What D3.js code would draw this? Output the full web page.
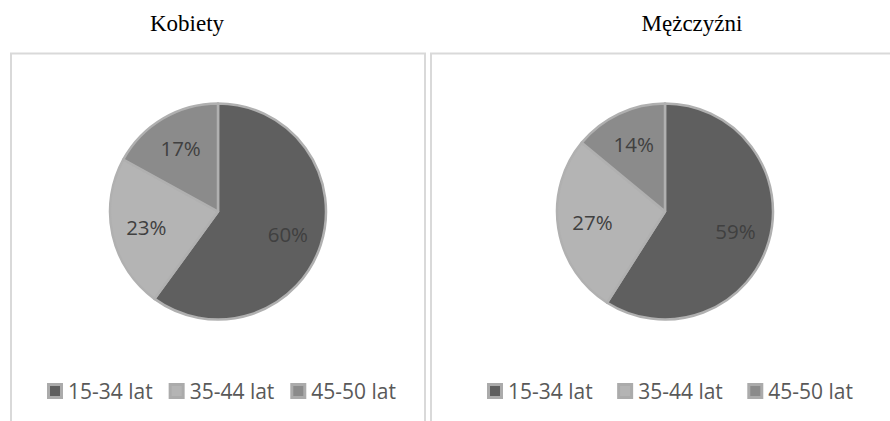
<!DOCTYPE html>
<html><head><meta charset="utf-8">
<script src="https://cdn.jsdelivr.net/npm/d3@7"></script>
<style>body{margin:0;background:#fff}svg{display:block}</style>
</head><body>
<svg id="c" width="890" height="421"></svg>
<script>
const categories = ["15-34 lat", "35-44 lat", "45-50 lat"];
const panelTitles = ["Kobiety", "Mężczyźni"];
const kobietyValues = [60, 23, 17];
const mezczyzniValues = [59, 27, 14];
const colors = ["#5f5f5f", "#b4b4b4", "#8b8b8b"];

const svg = d3.select("#c");
const color = d3.scaleOrdinal().domain(categories).range(colors);

const panels = [
  {title: panelTitles[0], values: kobietyValues, x0: 11, x1: 425, cx: 218, titleX: 187, legendX: 47, legendX2: 396},
  {title: panelTitles[1], values: mezczyzniValues, x0: 431, x1: 910, cx: 665, titleX: 692, legendX: 487, legendX2: 853}
];

const pie = d3.pie().sort(null).value(d => d);
const r = 108;
const arc = d3.arc().innerRadius(0).outerRadius(r);
const cy = 211.5;

panels.forEach(p => {
  svg.append("rect").attr("x", p.x0).attr("y", 53.5).attr("width", p.x1 - p.x0).attr("height", 400)
    .attr("fill", "none").attr("stroke", "#d9d9d9").attr("stroke-width", 2);
  svg.append("text").attr("x", p.titleX).attr("y", 31).attr("text-anchor", "middle")
    .attr("font-family", "Liberation Serif, Times New Roman, serif").attr("font-size", 23)
    .attr("fill", "#000").text(p.title);

  const g = svg.append("g").attr("transform", `translate(${p.cx},${cy})`);
  const arcs = pie(p.values);
  g.selectAll("path").data(arcs).join("path")
    .attr("d", arc)
    .attr("fill", (d, i) => color(categories[i]))
    .attr("stroke", "#b0b0b0").attr("stroke-width", 2.5).attr("stroke-linejoin", "round");
  const lab = d3.arc().innerRadius(r * 0.68).outerRadius(r * 0.68);
  g.selectAll("text").data(arcs).join("text")
    .attr("transform", d => `translate(${lab.centroid(d)})`)
    .attr("text-anchor", "middle").attr("dy", "0.36em")
    .attr("font-family", "Open Sans, sans-serif").attr("font-size", 20.5)
    .attr("fill", "#404040")
    .text(d => d.data + "%");

  // legend: measure then distribute between legendX and legendX2
  const items = categories.map((c, i) => {
    const lg = svg.append("g");
    lg.append("rect").attr("x", 1.5).attr("y", -6.5).attr("width", 13).attr("height", 13)
      .attr("fill", color(c)).attr("stroke", "#ababab").attr("stroke-width", 3);
    const t = lg.append("text").attr("x", 21).attr("y", 8)
      .attr("font-family", "Open Sans, sans-serif").attr("font-size", 21)
      .attr("fill", "#595959").text(c);
    return {lg, w: 21 + t.node().getComputedTextLength()};
  });
  const total = d3.sum(items, d => d.w);
  const gap = (p.legendX2 - p.legendX - total) / (items.length - 1);
  let x = p.legendX;
  items.forEach(it => { it.lg.attr("transform", `translate(${x},391)`); x += it.w + gap; });
});
</script>
</body></html>
